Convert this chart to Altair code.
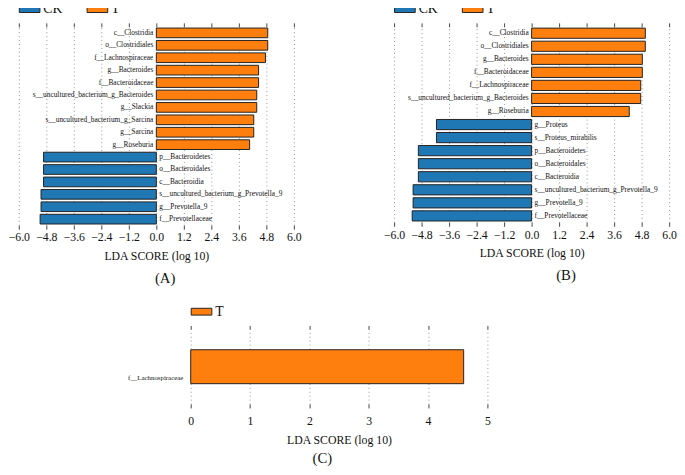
import altair as alt
import pandas as pd

FONT = "Liberation Serif, Times New Roman, Times, serif"

# ---------------- data ----------------
A_names = ["c__Clostridia", "o__Clostridiales", "f__Lachnospiraceae", "g__Bacteroides",
           "f__Bacteroidaceae", "s__uncultured_bacterium_g_Bacteroides", "g__Slackia",
           "s__uncultured_bacterium_g_Sarcina", "g__Sarcina", "g__Roseburia",
           "p__Bacteroidetes", "o__Bacteroidales", "c__Bacteroidia",
           "s__uncultured_bacterium_g_Prevotella_9", "g__Prevotella_9", "f__Prevotellaceae"]
A_scores = [4.86, 4.86, 4.76, 4.46, 4.46, 4.38, 4.38, 4.25, 4.25, 4.07,
            -4.92, -4.92, -4.92, -5.03, -5.03, -5.07]
A_groups = ["T"] * 10 + ["CK"] * 6

B_names = ["c__Clostridia", "o__Clostridiales", "g__Bacteroides", "f__Bacteroidaceae",
           "f__Lachnospiraceae", "s__uncultured_bacterium_g_Bacteroides", "g__Roseburia",
           "g__Proteus", "s__Proteus_mirabilis", "p__Bacteroidetes", "o__Bacteroidales",
           "c__Bacteroidia", "s__uncultured_bacterium_g_Prevotella_9", "g__Prevotella_9",
           "f__Prevotellaceae"]
B_scores = [4.96, 4.96, 4.83, 4.83, 4.76, 4.76, 4.26,
            -4.15, -4.15, -4.94, -4.94, -4.94, -5.17, -5.17, -5.21]
B_groups = ["T"] * 7 + ["CK"] * 8

C_names = ["f__Lachnospiraceae"]
C_scores = [4.6]
C_groups = ["T"]

AB_ticks = [-6.0, -4.8, -3.6, -2.4, -1.2, 0.0, 1.2, 2.4, 3.6, 4.8, 6.0]
C_ticks = [0, 1, 2, 3, 4, 5]

group_domain = ["CK", "T"]
group_colors = ["#1f77b4", "#ff7f0e"]

TXT = "#111111"
BAR_STROKE = "#222222"


def legend():
    return alt.Legend(title=None, orient="top", direction="horizontal",
                      symbolType="M-1,-0.33H1V0.33H-1Z", symbolSize=441,
                      symbolStrokeColor=BAR_STROKE, symbolStrokeWidth=1, symbolOpacity=1,
                      labelFont=FONT, labelFontSize=14, labelColor=TXT,
                      columnPadding=22, offset=6, labelOffset=3, padding=0)


def bottom_axis(values, fmt, label_pad):
    return alt.Axis(values=values, format=fmt, grid=True, gridDash=[1, 3], gridColor="#777777",
                    gridWidth=0.8, domain=False, ticks=True, tickSize=4, tickColor="#444444",
                    labelFont=FONT, labelFontSize=12, labelColor=TXT, labelPadding=label_pad,
                    labelOverlap=False, labelFlush=False,
                    title="LDA SCORE (log 10)", titleFont=FONT, titleFontSize=12,
                    titleFontWeight="normal", titleColor=TXT, titlePadding=8)


def top_axis(values):
    return alt.Axis(orient="top", values=values, labels=False, ticks=True, tickSize=4,
                    tickColor="#444444", domain=False, grid=False, title=None)


def caption(text, dx, offset):
    return alt.TitleParams(text, orient="bottom", fontSize=15, font=FONT, fontWeight="normal",
                           color=TXT, offset=offset, dx=dx, frame="group")


def panel(names, scores, groups, cap, dx, domain, height):
    df = pd.DataFrame({"name": names, "score": scores, "group": groups,
                       "zero": [0] * len(names)})
    base = alt.Chart(df)
    xscale = alt.Scale(domain=[-6, 6], nice=False, zero=False)
    y = alt.Y("name:N", sort=names, axis=None,
              scale=alt.Scale(paddingInner=0.22, paddingOuter=0.1))
    bars = base.mark_bar(stroke=BAR_STROKE, strokeWidth=1).encode(
        x=alt.X("score:Q", scale=xscale, axis=bottom_axis(AB_ticks, ".1f", 3)),
        y=y,
        color=alt.Color("group:N", scale=alt.Scale(domain=domain, range=group_colors),
                        legend=legend()),
    )
    t_lab = base.transform_filter(alt.datum.group == "T").mark_text(
        align="right", baseline="middle", dx=-3, font=FONT, fontSize=7.5, color=TXT
    ).encode(x=alt.X("zero:Q", scale=xscale, axis=top_axis(AB_ticks)), y=y, text="name:N")
    c_lab = base.transform_filter(alt.datum.group == "CK").mark_text(
        align="left", baseline="middle", dx=3, font=FONT, fontSize=7.5, color=TXT
    ).encode(x=alt.X("zero:Q", scale=xscale, axis=None), y=y, text="name:N")
    return alt.layer(bars, t_lab, c_lab).resolve_axis(x="independent").properties(
        width=280, height=height, title=caption(cap, dx, 10))


A = panel(A_names, A_scores, A_groups, "(A)", 9, group_domain, 202)
B = panel(B_names, B_scores, B_groups, "(B)", 35, group_domain, 199)

# ---------------- panel C ----------------
dfc = pd.DataFrame({"name": C_names, "score": C_scores, "group": C_groups,
                    "zero": [0] * len(C_names)})
cbase = alt.Chart(dfc)
cx = alt.Scale(domain=[0, 5], nice=False, zero=False)
c_bars = cbase.mark_bar(stroke=BAR_STROKE, strokeWidth=1).encode(
    x=alt.X("score:Q", scale=cx, axis=bottom_axis(C_ticks, "d", 8)),
    y=alt.Y("name:N", sort=C_names,
            scale=alt.Scale(paddingInner=0.5, paddingOuter=0.3),
            axis=alt.Axis(title=None, domain=False, ticks=False, labelFont=FONT,
                          labelFontSize=7, labelColor=TXT, labelPadding=8, labelOffset=12)),
    color=alt.Color("group:N", scale=alt.Scale(domain=["T"], range=["#ff7f0e"]),
                    legend=legend()),
)
c_top = cbase.mark_rule(opacity=0).encode(x=alt.X("zero:Q", scale=cx, axis=top_axis(C_ticks)))
C = alt.layer(c_bars, c_top).resolve_axis(x="independent").properties(
    width=302, height=76, title=caption("(C)", -17, 6))

spacer = alt.Chart(pd.DataFrame({"s": [0]})).mark_rect(opacity=0).encode(
    x=alt.value(0), x2=alt.value(110), y=alt.value(0), y2=alt.value(1)
).properties(width=110, height=1)

top = alt.hconcat(A, B, spacing=83).resolve_scale(color="independent").resolve_legend(
    color="independent")
bottom = alt.hconcat(spacer, C, spacing=0).resolve_scale(color="independent").resolve_legend(
    color="independent")

chart = alt.vconcat(top, bottom, spacing=15).resolve_scale(color="independent").resolve_legend(
    color="independent").properties(
    padding={"left": 0, "top": -14, "right": 0, "bottom": 0}).configure_view(strokeWidth=0)

chart.save("out.html", embed_options={"renderer": "svg", "actions": False})
